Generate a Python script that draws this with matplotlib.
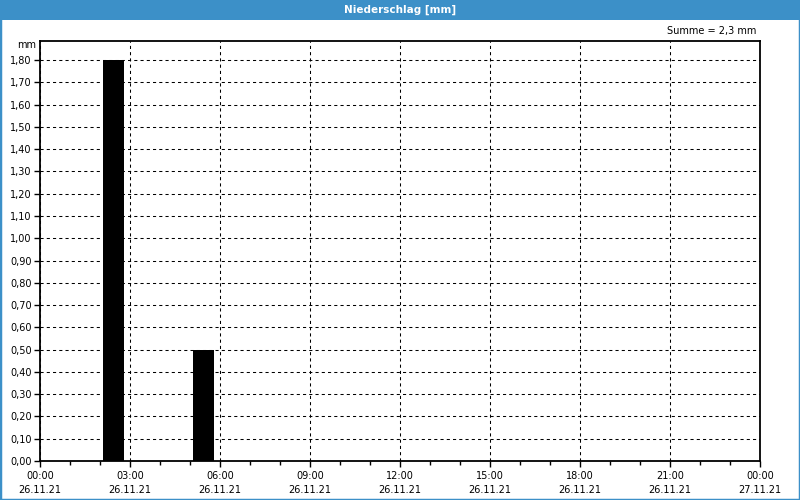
import matplotlib
matplotlib.use("Agg")
import matplotlib.pyplot as plt
import matplotlib.dates as mdates
import matplotlib.ticker as ticker
from matplotlib.patches import Rectangle
from datetime import datetime, timedelta

# hourly precipitation (hour start -> mm)
hour_starts = ["26.11.21 02:00", "26.11.21 05:00"]
rain_mm = [1.8, 0.5]
total_label = "Summe = 2,3 mm"
day_start = "26.11.21 00:00"
day_end = "27.11.21 00:00"

fmt = "%d.%m.%y %H:%M"
t0 = datetime.strptime(day_start, fmt)
t1 = datetime.strptime(day_end, fmt)
bar_x = [datetime.strptime(s, fmt) + timedelta(minutes=6) for s in hour_starts]

blue = "#3c90c8"
plt.rcParams['font.family'] = ['DejaVu Sans']

fig = plt.figure(figsize=(8, 5), dpi=100)
fig.patch.set_facecolor("white")
ax = fig.add_axes([0.05, 0.078, 0.90, 0.8406])

ax.bar(bar_x, rain_mm, width=0.7 / 24, align="edge", color="black", zorder=3)

ax.set_xlim(t0, t1)
ax.set_ylim(0, 1.887)

ax.xaxis.set_major_locator(mdates.HourLocator(interval=3))
ax.xaxis.set_minor_locator(mdates.HourLocator(interval=1))
ax.xaxis.set_major_formatter(mdates.DateFormatter("%H:%M\n%d.%m.%y"))
ax.yaxis.set_major_locator(ticker.MultipleLocator(0.1))
ax.yaxis.set_major_formatter(ticker.FuncFormatter(lambda v, _: f"{v:.2f}".replace(".", ",")))

ax.tick_params(axis="both", labelsize=7, colors="black", length=4, width=1, direction="out")
ax.tick_params(axis="x", which="minor", length=3, width=1)
ax.tick_params(axis="x", pad=3)
ax.tick_params(axis="y", pad=2)
for lbl in ax.get_xticklabels():
    lbl.set_linespacing(1.55)

ax.grid(True, which="major", color="black", linestyle=(0, (3, 3)), linewidth=0.75, zorder=1)
for sp in ax.spines.values():
    sp.set_linewidth(1.3)
    sp.set_color("black")

# title bar
fig.add_artist(Rectangle((0, 0.96), 1, 0.04, transform=fig.transFigure,
                         facecolor=blue, edgecolor="none"))
fig.text(0.5, 0.98, "Niederschlag [mm]", color="white", fontsize=7.5,
         fontweight="bold", ha="center", va="center")
# window border
fig.add_artist(Rectangle((0, 0), 1, 1, transform=fig.transFigure,
                         facecolor="none", edgecolor=blue, linewidth=2.5))

fig.text(0.945, 0.938, total_label, fontsize=7, ha="right", va="center")
fig.text(0.045, 0.91, "mm", fontsize=7, ha="right", va="center")

plt.savefig("out.png", dpi=100)
